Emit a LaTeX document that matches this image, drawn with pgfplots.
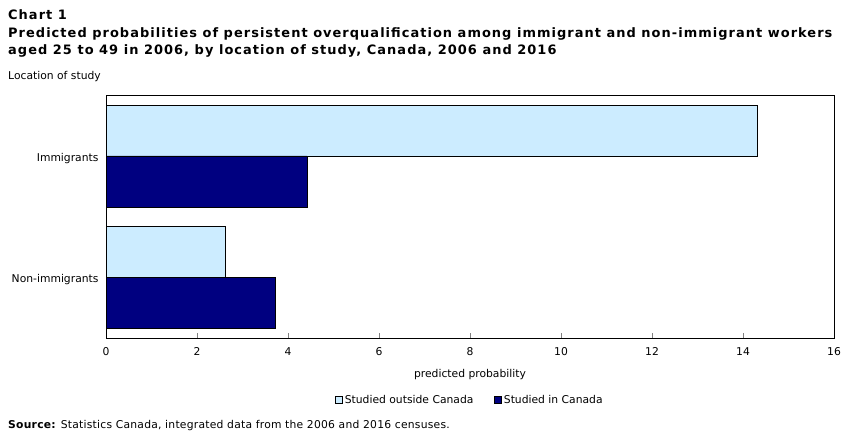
\documentclass[border=0pt]{standalone}
\usepackage{fontspec}
\setmainfont{DejaVu Sans}
\newfontfamily\titlefont[LetterSpace=8]{DejaVu Sans}
\newfontfamily\srcfont[LetterSpace=2.2]{DejaVu Sans}
\usepackage{pgfplots}
\pgfplotsset{compat=1.18}
\definecolor{lightbar}{HTML}{CCECFF}
\definecolor{darkbar}{HTML}{000080}
\newcommand{\sm}{\fontsize{10.8}{12}\selectfont}
\begin{document}
\begin{tikzpicture}
\path[use as bounding box] (0bp,0bp) rectangle (852bp,-436bp);
\node[anchor=base west,inner sep=0,font=\titlefont\fontsize{13}{15}\selectfont\bfseries] at (8bp,-19bp) {Chart 1};
\node[anchor=base west,inner sep=0,font=\titlefont\fontsize{13}{15}\selectfont\bfseries] at (8bp,-37bp) {Predicted probabilities of persistent overqualification among immigrant and non-immigrant workers};
\node[anchor=base west,inner sep=0,font=\titlefont\fontsize{13}{15}\selectfont\bfseries] at (8bp,-54bp) {aged 25 to 49 in 2006, by location of study, Canada, 2006 and 2016};
\node[anchor=base west,inner sep=0,font=\sm] at (8bp,-79bp) {Location of study};
\node[anchor=base west,inner sep=0,font=\srcfont\sm] at (8bp,-428bp) {\textbf{Source:} Statistics Canada, integrated data from the 2006 and 2016 censuses.};
\begin{axis}[
  at={(106bp,-338bp)}, anchor=south west,
  scale only axis, width=728bp, height=243bp,
  xbar, bar width=0.42,
  xmin=0, xmax=16, ymin=-0.504, ymax=1.504,
  xtick={0,2,...,16}, ytick={0,1},
  yticklabels={Non-immigrants,Immigrants},
  xtick pos=bottom, tick align=inside,
  major tick length=5bp,
  ytick style={draw=none},
  axis line style={black, line width=0.8pt},
  ticklabel style={font=\sm},
  /pgf/number format/assume math mode=true,
  xticklabel style={yshift=-6bp},
  yticklabel style={xshift=-4bp, yshift=-2.5bp},
  xlabel={predicted probability},
  xlabel style={at={(axis description cs:0.5,-0.152)}, anchor=center, font=\sm},
  legend style={at={(0.5,-0.255)}, anchor=center, draw=none, legend columns=2, font=\sm,
    /tikz/every even column/.append style={column sep=19bp}, inner sep=0pt},
  legend image code/.code={\draw[#1, draw=black, line width=0.5pt] (0bp,-3.5bp) rectangle (7bp,3.5bp);},
]
\addplot[fill=lightbar, draw=black, line width=0.6pt, bar shift=0.21] coordinates {(14.31,1) (2.62,0)};
\addplot[fill=darkbar, draw=black, line width=0.6pt, bar shift=-0.21] coordinates {(4.42,1) (3.71,0)};
\legend{Studied outside Canada, Studied in Canada}
\end{axis}
\end{tikzpicture}
\end{document}
